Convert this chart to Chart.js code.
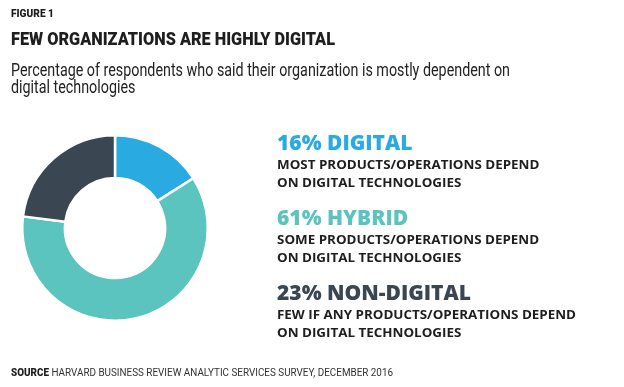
<!DOCTYPE html>
<html>
<head>
<meta charset="utf-8">
<script src="https://cdn.jsdelivr.net/npm/chart.js@4.4.1/dist/chart.umd.min.js"></script>
<style>
  body { margin: 0; background: #fff; }
  canvas { display: block; }
</style>
</head>
<body>
<canvas id="digitalChart" width="624" height="387"></canvas>
<script>
// Données du graphique
const categories = ['DIGITAL', 'HYBRID', 'NON-DIGITAL'];
const shares = [16, 61, 23];
const descriptions = [
    ['MOST PRODUCTS/OPERATIONS DEPEND', 'ON DIGITAL TECHNOLOGIES'],
    ['SOME PRODUCTS/OPERATIONS DEPEND', 'ON DIGITAL TECHNOLOGIES'],
    ['FEW IF ANY PRODUCTS/OPERATIONS DEPEND', 'ON DIGITAL TECHNOLOGIES']
];
const sliceColors = ['#29abe2', '#5bc4bf', '#3a4651'];

const figureLabel = 'FIGURE 1';
const title = 'FEW ORGANIZATIONS ARE HIGHLY DIGITAL';
const subtitle = ['Percentage of respondents who said their organization is mostly dependent on', 'digital technologies'];
const sourceLabel = 'SOURCE';
const sourceText = 'HARVARD BUSINESS REVIEW ANALYTIC SERVICES SURVEY, DECEMBER 2016';

// Dessine un texte, compressé horizontalement d'un facteur sx
function drawText(ctx, text, x, y, font, color, sx) {
    ctx.save();
    ctx.font = font;
    ctx.fillStyle = color;
    ctx.textBaseline = 'alphabetic';
    ctx.translate(x, y);
    ctx.scale(sx, 1);
    ctx.fillText(text, 0, 0);
    ctx.restore();
}

// Facteur pour qu'un texte occupe une largeur donnée
function fitScale(ctx, text, font, width) {
    ctx.save();
    ctx.font = font;
    const w = ctx.measureText(text).width;
    ctx.restore();
    return width / w;
}

const textPlugin = {
    id: 'texts',
    afterDraw(chart) {
        const ctx = chart.ctx;

        // En-tête
        const fFig = '900 10px Roboto';
        drawText(ctx, figureLabel, 11, 17, fFig, '#1e1e1e', fitScale(ctx, figureLabel, fFig, 43));
        const fTitle = '900 18.5px Roboto';
        drawText(ctx, title, 11, 45, fTitle, '#1e1e1e', fitScale(ctx, title, fTitle, 324));
        const fSub = '17.5px Roboto';
        const sSub = fitScale(ctx, subtitle[0], fSub, 499);
        subtitle.forEach((line, i) => drawText(ctx, line, 11, 75.5 + i * 17.5, fSub, '#222222', sSub));

        // Légende à droite
        const fHead = '800 20.5px "Open Sans"';
        const fDesc = 'bold 13px "Open Sans"';
        const headings = categories.map((c, i) => shares[i] + '% ' + c);
        const sHead = fitScale(ctx, headings[2], fHead, 194);
        const sDesc = fitScale(ctx, descriptions[2][0], fDesc, 299);
        headings.forEach((h, i) => {
            const y = 150 + i * 75;
            drawText(ctx, h, 277, y, fHead, sliceColors[i], sHead);
            descriptions[i].forEach((line, j) => {
                drawText(ctx, line, 277, y + 18.5 + j * 18.5, fDesc, '#1e1e1e', sDesc);
            });
        });

        // Source
        const fSrcB = '900 11.5px Roboto';
        const fSrc = '11.5px Roboto';
        ctx.save();
        ctx.font = fSrcB;
        const wB = ctx.measureText(sourceLabel + ' ').width;
        ctx.font = fSrc;
        const wT = ctx.measureText(sourceText).width;
        ctx.restore();
        const sSrc = 382 / (wB + wT);
        drawText(ctx, sourceLabel, 11, 376, fSrcB, '#1e1e1e', sSrc);
        drawText(ctx, sourceText, 11 + wB * sSrc, 376, fSrc, '#333333', sSrc);
    }
};

// Graphique en anneau
const ctx = document.getElementById('digitalChart').getContext('2d');
const digitalChart = new Chart(ctx, {
    type: 'doughnut',
    data: {
        labels: categories,
        datasets: [{
            data: shares,
            backgroundColor: sliceColors,
            borderColor: '#ffffff',
            borderWidth: 2.5
        }]
    },
    options: {
        responsive: false,
        animation: false,
        cutout: '54%',
        layout: {
            padding: { left: 21, top: 134, right: 415, bottom: 65 }
        },
        plugins: {
            legend: { display: false },
            tooltip: { enabled: false }
        }
    },
    plugins: [textPlugin]
});
</script>
</body>
</html>
